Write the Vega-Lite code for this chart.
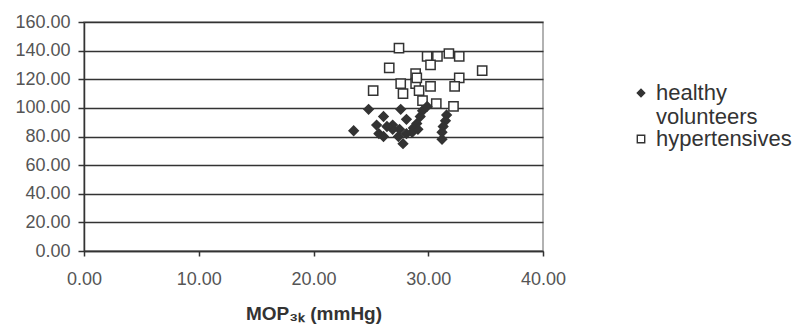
{
  "$schema": "https://vega.github.io/schema/vega-lite/v6.json",
  "width": 459,
  "height": 229,
  "autosize": "none",
  "padding": {"left": 84, "top": 22, "right": 263, "bottom": 75},
  "background": "white",
  "config": {
    "font": "Liberation Sans",
    "view": {"stroke": "#999", "strokeWidth": 1.5}
  },
  "data": {
    "values": [
      {"x": 27.45, "y": 141.8, "g": "hypertensives"},
      {"x": 26.6, "y": 128, "g": "hypertensives"},
      {"x": 25.2, "y": 112, "g": "hypertensives"},
      {"x": 27.6, "y": 117, "g": "hypertensives"},
      {"x": 27.8, "y": 110, "g": "hypertensives"},
      {"x": 28.9, "y": 124, "g": "hypertensives"},
      {"x": 28.9, "y": 117, "g": "hypertensives"},
      {"x": 29.2, "y": 112, "g": "hypertensives"},
      {"x": 29.5, "y": 105, "g": "hypertensives"},
      {"x": 29.9, "y": 136, "g": "hypertensives"},
      {"x": 30.8, "y": 136, "g": "hypertensives"},
      {"x": 30.2, "y": 130, "g": "hypertensives"},
      {"x": 30.2, "y": 115, "g": "hypertensives"},
      {"x": 30.7, "y": 103, "g": "hypertensives"},
      {"x": 31.8, "y": 138, "g": "hypertensives"},
      {"x": 32.7, "y": 136, "g": "hypertensives"},
      {"x": 32.7, "y": 121, "g": "hypertensives"},
      {"x": 32.3, "y": 115, "g": "hypertensives"},
      {"x": 32.2, "y": 101, "g": "hypertensives"},
      {"x": 34.7, "y": 126, "g": "hypertensives"},
      {"x": 29.0, "y": 121, "g": "hypertensives"},
      {"x": 23.5, "y": 84, "g": "healthy volunteers"},
      {"x": 24.8, "y": 99, "g": "healthy volunteers"},
      {"x": 26.1, "y": 94, "g": "healthy volunteers"},
      {"x": 25.5, "y": 88, "g": "healthy volunteers"},
      {"x": 25.7, "y": 82, "g": "healthy volunteers"},
      {"x": 27.6, "y": 99, "g": "healthy volunteers"},
      {"x": 26.9, "y": 88, "g": "healthy volunteers"},
      {"x": 27.5, "y": 85, "g": "healthy volunteers"},
      {"x": 26.9, "y": 85, "g": "healthy volunteers"},
      {"x": 27.8, "y": 75, "g": "healthy volunteers"},
      {"x": 28.1, "y": 82, "g": "healthy volunteers"},
      {"x": 27.4, "y": 80, "g": "healthy volunteers"},
      {"x": 28.7, "y": 86, "g": "healthy volunteers"},
      {"x": 29.0, "y": 89, "g": "healthy volunteers"},
      {"x": 29.3, "y": 94, "g": "healthy volunteers"},
      {"x": 29.5, "y": 98, "g": "healthy volunteers"},
      {"x": 29.9, "y": 101, "g": "healthy volunteers"},
      {"x": 29.1, "y": 85, "g": "healthy volunteers"},
      {"x": 28.6, "y": 83, "g": "healthy volunteers"},
      {"x": 31.6, "y": 95, "g": "healthy volunteers"},
      {"x": 31.5, "y": 91, "g": "healthy volunteers"},
      {"x": 31.3, "y": 87, "g": "healthy volunteers"},
      {"x": 31.2, "y": 83, "g": "healthy volunteers"},
      {"x": 31.2, "y": 78, "g": "healthy volunteers"},
      {"x": 26.1, "y": 80, "g": "healthy volunteers"},
      {"x": 28.1, "y": 92, "g": "healthy volunteers"},
      {"x": 26.4, "y": 87, "g": "healthy volunteers"}
    ]
  },
  "mark": {"type": "point", "filled": false, "strokeWidth": 1.5, "size": 85, "opacity": 1},
  "encoding": {
    "x": {
      "field": "x", "type": "quantitative",
      "scale": {"domain": [0, 40], "nice": false},
      "axis": {
        "values": [0, 10, 20, 30, 40], "format": ".2f", "grid": false, "labelFlush": false,
        "title": "MOP₃ₖ (mmHg)", "titleFont": "Liberation Sans", "titleFontSize": 19, "titleFontWeight": "bold", "titleColor": "#333",
        "titlePadding": 16,
        "labelFontSize": 18, "labelColor": "#555", "labelPadding": 14,
        "domainColor": "#333", "domainWidth": 1.5, "tickColor": "#333", "tickWidth": 1.5, "tickSize": 5
      }
    },
    "y": {
      "field": "y", "type": "quantitative",
      "scale": {"domain": [0, 160], "nice": false},
      "axis": {
        "values": [0, 20, 40, 60, 80, 100, 120, 140, 160], "format": ".2f", "title": null,
        "grid": true, "gridColor": "#333", "gridWidth": 1.5,
        "labelFontSize": 18, "labelColor": "#555", "labelPadding": 8,
        "domainColor": "#333", "domainWidth": 1.5, "tickColor": "#333", "tickWidth": 1.5, "tickSize": 6
      }
    },
    "shape": {
      "field": "g", "type": "nominal",
      "scale": {"domain": ["healthy volunteers", "hypertensives"], "range": ["diamond", "square"]},
      "legend": {
        "title": null, "orient": "none", "legendX": 546, "legendY": 60,
        "labelFontSize": 22, "labelColor": "#333", "symbolSize": 55, "rowPadding": -6,
        "labelOffset": 4,
        "labelExpr": "datum.label == 'healthy volunteers' ? ['healthy', 'volunteers'] : datum.label",
        "symbolStrokeWidth": 1.4,
        "encode": {"labels": {"update": {"lineHeight": {"value": 29}}}}
      }
    },
    "fill": {
      "field": "g", "type": "nominal",
      "scale": {"domain": ["healthy volunteers", "hypertensives"], "range": ["#333", "white"]},
      "legend": null
    },
    "stroke": {"value": "#333"}
  }
}
